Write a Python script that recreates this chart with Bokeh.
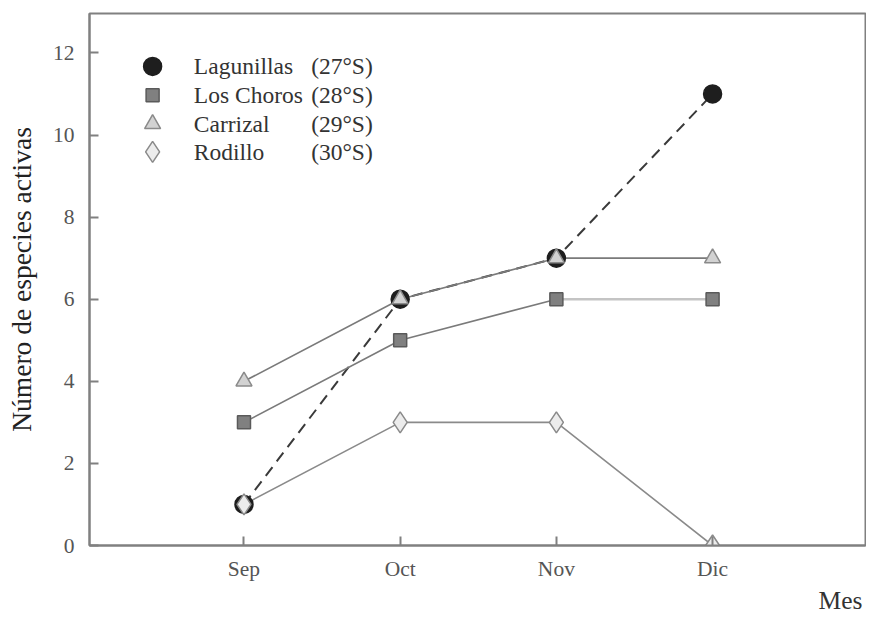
from bokeh.plotting import figure
from bokeh.models import Range1d, FixedTicker, Title
from bokeh.embed import file_html
from bokeh.resources import INLINE
from bokeh.core.properties import value

# ---- data ----
months = ["Sep", "Oct", "Nov", "Dic"]
month_pos = [1, 2, 3, 4]
lagunillas = [1, 6, 7, 11]
los_choros = [3, 5, 6, 6]
carrizal = [4, 6, 7, 7]
rodillo = [1, 3, 3, 0]
series_names = ["Lagunillas", "Los Choros", "Carrizal", "Rodillo"]
series_lat = ["(27°S)", "(28°S)", "(29°S)", "(30°S)"]
y_ticks = [0, 2, 4, 6, 8, 10, 12]

FONT = "Liberation Serif"
X0, X1 = 0.011, 4.979

p = figure(width=866, height=614, output_backend="svg", toolbar_location=None,
           x_range=Range1d(X0, X1), y_range=Range1d(0, 12.96),
           min_border_left=89, min_border_right=1, min_border_top=13, min_border_bottom=61)
p.background_fill_color = "white"
p.border_fill_color = "white"
p.outline_line_color = "#808080"
p.outline_line_width = 2
p.grid.visible = False

for ax in (p.xaxis[0], p.yaxis[0]):
    ax.axis_line_color = "#808080"
    ax.axis_line_width = 2
    ax.major_tick_line_color = "#808080"
    ax.major_tick_line_width = 2
    ax.major_tick_in = 9
    ax.major_tick_out = 0
    ax.minor_tick_line_color = None
    ax.major_label_text_font = FONT
    ax.major_label_text_font_size = "21.5px"
    ax.major_label_text_color = "#555555"
    ax.axis_label_text_font = FONT
    ax.axis_label_text_font_style = "normal"
    ax.axis_label_text_color = "#222222"

p.xaxis.ticker = FixedTicker(ticks=month_pos)
p.xaxis.major_label_overrides = {m: lab for m, lab in zip(month_pos, months)}
p.xaxis.major_label_standoff = 11
p.yaxis.ticker = FixedTicker(ticks=y_ticks)
p.yaxis.major_label_standoff = 15
p.yaxis.axis_label = "Número de especies activas"
p.yaxis.axis_label_text_font_size = "27.5px"
p.yaxis.axis_label_standoff = 13

p.add_layout(Title(text="Mes", align="right", text_font=FONT, text_font_size="25.5px",
                   text_font_style="normal", text_color="#333333", standoff=0, offset=3), "below")

# ---- series ----
p.line(month_pos, lagunillas, line_color="#3a3a3a", line_width=2, line_dash="11 7")
p.line(month_pos, carrizal, line_color="#7a7a7a", line_width=1.6)
p.line(month_pos[:3], los_choros[:3], line_color="#7a7a7a", line_width=1.6)
p.line(month_pos[2:], los_choros[2:], line_color="#c4c4c4", line_width=2.5)
p.line(month_pos, rodillo, line_color="#8a8a8a", line_width=1.6)

styles = [
    dict(marker="circle", size=18, fill_color="#1e1e1e", line_color="#1e1e1e"),
    dict(marker="square", size=13, fill_color="#808080", line_color="#5a5a5a"),
    dict(marker="triangle", size=16, fill_color="#d2d2d2", line_color="#8a8a8a"),
    dict(marker="diamond", size=21, fill_color="#ececec", line_color="#8a8a8a"),
]
for ys, st in zip([lagunillas, los_choros, carrizal, rodillo], styles):
    p.scatter(month_pos, ys, line_width=1.5, **st)

# ---- manual legend ----
leg_marker_x = 0.415
leg_name_x = 0.679
leg_lat_x = 1.43
leg_rows = [11.67, 10.97, 10.27, 9.59]
for name, lat, yy, st in zip(series_names, series_lat, leg_rows, styles):
    p.scatter([leg_marker_x], [yy], line_width=1.5, **st)
    p.text([leg_name_x], [yy], text=[name], text_font=value(FONT), text_font_size="23.5px",
           text_color="#333333", text_baseline="middle", text_align="left")
    p.text([leg_lat_x], [yy], text=[lat], text_font=value(FONT), text_font_size="23.5px",
           text_color="#333333", text_baseline="middle", text_align="left")

open("out.html", "w").write(file_html(p, INLINE))
